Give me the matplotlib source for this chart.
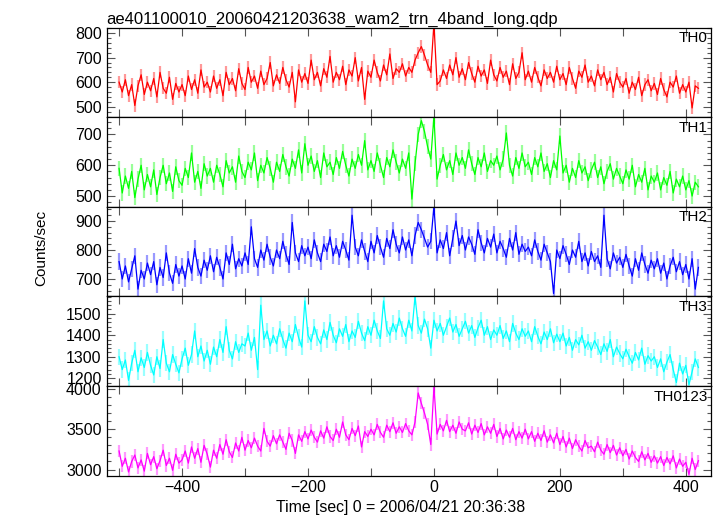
import numpy as np
import matplotlib
matplotlib.use("Agg")
import matplotlib.pyplot as plt
from matplotlib.ticker import MultipleLocator, AutoMinorLocator

plt.rcParams['font.family'] = ['Liberation Sans', 'DejaVu Sans']

# light curve bins, 5 s wide, t = 0 at 2006/04/21 20:36:38
t_start, t_stop, t_step = -500, 420, 5
time = np.arange(t_start, t_stop + 1, t_step)

th0 = [
    600, 560, 610, 545, 590, 505, 585, 630, 550, 600,
    565, 615, 540, 640, 575, 555, 620, 530, 595, 560,
    590, 545, 625, 570, 610, 555, 650, 580, 600, 560,
    625, 575, 610, 545, 640, 590, 615, 565, 655, 595,
    570, 660, 600, 625, 575, 645, 590, 615, 680, 585,
    630, 595, 660, 610, 580, 640, 520, 650, 600, 635,
    595, 690, 610, 640, 585, 655, 620, 705, 600, 640,
    610, 665, 590, 650, 625, 700, 605, 660, 530, 645,
    620, 690, 640, 605, 670, 630, 715, 615, 655, 640,
    675, 625, 660, 640, 690, 720, 745, 710, 670, 640,
    840, 590, 605, 650, 615, 670, 630, 700, 620, 655,
    610, 680, 635, 600, 665, 625, 650, 595, 690, 630,
    605, 660, 620, 645, 590, 675, 615, 640, 720, 610,
    645, 600, 660, 620, 585, 650, 615, 640, 600, 665,
    610, 635, 590, 660, 615, 575, 645, 620, 670, 600,
    625, 585, 650, 610, 640, 590, 620, 560, 635, 600,
    580, 615, 555, 600, 570, 620, 545, 590, 610, 565,
    595, 550, 615, 570, 540, 600, 580, 625, 555, 590,
    560, 600, 495, 585, 575,
]

th1 = [
    590, 510, 565, 525, 580, 495, 555, 600, 520, 570,
    530, 585, 505, 560, 600, 540, 575, 515, 595, 550,
    535, 590, 560, 640, 545, 580, 525, 605, 565, 590,
    545, 600, 570, 530, 615, 575, 595, 545, 630, 580,
    560, 610, 585, 640, 550, 600, 575, 625, 590, 545,
    610, 580, 635, 595, 565, 620, 590, 650, 575, 670,
    600, 630, 580, 615, 560, 640, 595, 610, 570, 625,
    590, 645, 600, 565, 620, 590, 635, 600, 680, 585,
    615, 580, 640, 600, 560, 625, 595, 650, 610, 575,
    620, 590, 640, 490, 605, 700, 745, 710, 660, 620,
    760, 555, 600, 635, 585, 615, 570, 640, 600, 625,
    590, 650, 605, 570, 625, 595, 640, 580, 615, 600,
    630, 585, 620, 705, 600, 565, 625, 590, 640, 595,
    610, 570, 625, 595, 640, 580, 605, 560, 615, 585,
    695, 575, 600, 545, 590, 560, 615, 575, 595, 550,
    585, 610, 560, 595, 540, 580, 605, 555, 590, 565,
    540, 585, 555, 600, 530, 570, 545, 590, 520, 565,
    545, 575, 520, 560, 535, 580, 510, 555, 530, 565,
    520, 550, 500, 545, 530,
]

th2 = [
    760, 700, 745, 690, 735, 780, 665, 730, 700, 755,
    715, 760, 680, 740, 705, 790, 720, 685, 750, 710,
    745, 700, 770, 720, 805, 740, 710, 765, 730, 780,
    725, 775, 740, 700, 790, 750, 820, 735, 770, 745,
    790, 750, 880, 770, 740, 800, 765, 820, 775, 745,
    800, 770, 830, 785, 750, 895, 790, 760, 815, 780,
    810, 770, 835, 790, 760, 820, 795, 845, 780, 815,
    775, 830, 800, 765, 920, 810, 780, 835, 795, 760,
    830, 790, 850, 810, 775, 840, 805, 870, 820, 790,
    845, 800, 835, 780, 850, 895, 870, 840, 810, 830,
    950, 790, 835, 805, 860, 780, 840, 900, 815, 850,
    800, 845, 820, 785, 870, 825, 790, 840, 810, 855,
    790, 830, 805, 775, 840, 800, 860, 785, 820, 795,
    810, 780, 835, 795, 765, 820, 790, 760, 650, 800,
    770, 815, 785, 750, 800, 775, 830, 760, 790, 745,
    795, 760, 780, 740, 920, 770, 735, 790, 755, 775,
    740, 785, 745, 710, 770, 730, 790, 750, 720, 765,
    735, 770, 720, 755, 700, 745, 775, 725, 760, 715,
    750, 700, 770, 665, 740,
]

th3 = [
    1300, 1240, 1285, 1190, 1270, 1330, 1230, 1295, 1250, 1320,
    1260, 1215, 1300, 1245, 1380, 1270, 1230, 1310, 1265, 1225,
    1290, 1340, 1260, 1310, 1420, 1300, 1350, 1280, 1330, 1265,
    1345, 1300, 1380, 1320, 1440, 1330, 1290, 1370, 1320, 1360,
    1350, 1410, 1330, 1390, 1240, 1540, 1380, 1420, 1350, 1400,
    1360, 1430, 1380, 1340, 1410, 1370, 1450, 1390, 1345, 1560,
    1400, 1370, 1440, 1390, 1360, 1425, 1380, 1460, 1400, 1365,
    1430, 1395, 1450, 1370, 1420, 1390, 1465, 1410, 1375, 1440,
    1400, 1470, 1420, 1385, 1560, 1430, 1400, 1455, 1415, 1480,
    1430, 1395, 1470, 1420, 1580, 1445, 1410, 1475, 1430, 1340,
    1470, 1420, 1455, 1400, 1440, 1480, 1415, 1450, 1395, 1430,
    1465, 1410, 1445, 1390, 1435, 1470, 1400, 1440, 1380, 1425,
    1400, 1445, 1385, 1420, 1370, 1455, 1410, 1380, 1430, 1395,
    1420, 1370, 1440, 1395, 1360, 1415, 1380, 1430, 1365, 1405,
    1370, 1410, 1350, 1390, 1330, 1380, 1355, 1400, 1340, 1370,
    1330, 1375, 1345, 1310, 1360, 1325, 1380, 1300, 1345, 1315,
    1290, 1335, 1300, 1270, 1320, 1285, 1340, 1265, 1305, 1280,
    1300, 1250, 1290, 1230, 1275, 1310, 1240, 1180, 1270, 1220,
    1260, 1170, 1230, 1290, 1250,
]

th0123 = [
    3230, 3040, 3140, 2970, 3100, 3180, 3020, 3120, 2980, 3200,
    3060, 3160, 3010, 3110, 3240, 3050, 3140, 2990, 3190, 3080,
    3120, 3230, 3080, 3280, 3140, 3260, 3090, 3300, 3190, 3030,
    3240, 3140, 3310, 3190, 3370, 3220, 3150, 3330, 3230, 3400,
    3240, 3360, 3270, 3390, 3290, 3230, 3510, 3350, 3290, 3420,
    3320, 3430, 3340, 3250, 3450, 3360, 3200, 3430, 3350, 3470,
    3380, 3490, 3400, 3340, 3480, 3390, 3530, 3410, 3360, 3500,
    3400, 3590, 3430, 3370, 3510, 3420, 3540, 3280, 3470, 3410,
    3500, 3430, 3560, 3460, 3400, 3550, 3470, 3580, 3450, 3530,
    3460, 3570, 3480, 3430, 3590, 3950, 3820, 3700, 3560, 3310,
    4030, 3440, 3560, 3480, 3610, 3470, 3550, 3450, 3590, 3500,
    3480, 3580, 3440, 3550, 3460, 3570, 3430, 3530, 3450, 3560,
    3410, 3510, 3380, 3490, 3400, 3510, 3370, 3470, 3390, 3500,
    3380, 3470, 3350, 3450, 3360, 3480, 3340, 3430, 3330, 3450,
    3310, 3410, 3280, 3390, 3260, 3370, 3290, 3230, 3360, 3270,
    3290, 3220, 3340, 3240, 3190, 3310, 3210, 3300, 3180, 3270,
    3170, 3250, 3130, 3230, 3150, 3100, 3220, 3120, 3200, 3090,
    3170, 3080, 3160, 3050, 3150, 3070, 3170, 3020, 3130, 3040,
    3090, 2940, 3140, 3000, 3110,
]

bands = ["TH0", "TH1", "TH2", "TH3", "TH0123"]
series = [th0, th1, th2, th3, th0123]
errors = [25, 25, 28, 38, 75]          # typical 1-sigma error per bin
ylims = [(457, 822), (465, 756), (640, 949), (1164, 1581), (2926, 4037)]
ymajor = [100, 100, 100, 100, 500]
colors = ["#ff0000", "#00ff00", "#0000ff", "#00ffff", "#ff00ff"]

fig = plt.figure(figsize=(7.17, 5.16), dpi=100)

left, right = 106.5 / 717, 711 / 717
top, bottom = 1 - 27.7 / 516, 1 - 475.5 / 516
h = (top - bottom) / 5

axes = []
for i in range(5):
    ax = fig.add_axes([left, top - (i + 1) * h, right - left, h])
    axes.append(ax)
    y = np.array(series[i])
    # error bars first, in a pale shade of the line colour
    ax.vlines(time, y - errors[i], y + errors[i], color=colors[i], alpha=0.4, lw=1.6)
    ax.plot(time, y, color=colors[i], lw=0.9)

    ax.set_xlim(-520, 440)
    ax.set_ylim(*ylims[i])
    ax.xaxis.set_major_locator(MultipleLocator(200))
    ax.xaxis.set_minor_locator(MultipleLocator(100))
    ax.yaxis.set_major_locator(MultipleLocator(ymajor[i]))
    ax.yaxis.set_minor_locator(AutoMinorLocator(5))
    ax.tick_params(which="both", direction="in", top=True, right=True,
                   labelsize=11.5, color="#555555", width=0.8)
    ax.tick_params(which="major", length=6)
    ax.tick_params(which="minor", length=3)
    ax.tick_params(axis="x", which="minor", length=6)
    for sp in ax.spines.values():
        sp.set_linewidth(0.9)
    ax.text(0.995, 0.96, bands[i], transform=ax.transAxes, ha="right", va="top",
            fontsize=11)
    if i < 4:
        ax.tick_params(axis="x", labelbottom=False)

axes[0].set_title("ae401100010_20060421203638_wam2_trn_4band_long.qdp",
                  loc="left", fontsize=12, pad=3)
axes[-1].set_xlabel("Time [sec] 0 = 2006/04/21 20:36:38", fontsize=11.4)
axes[-1].xaxis.set_label_coords(0.486, -0.27)
fig.text(0.057, 0.52, "Counts/sec", rotation=90, ha="center", va="center", fontsize=11)

fig.savefig("out.png", dpi=100)
